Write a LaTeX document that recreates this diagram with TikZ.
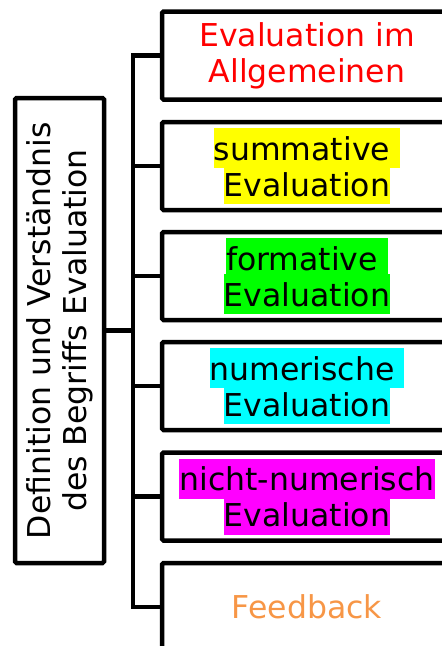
\documentclass[tikz,border=0pt]{standalone}
\usepackage{fontspec}
\setmainfont{DejaVu Sans}
\definecolor{hlyellow}{RGB}{255,255,0}
\definecolor{hlgreen}{RGB}{0,255,0}
\definecolor{hlcyan}{RGB}{0,255,255}
\definecolor{hlmagenta}{RGB}{255,0,255}
\definecolor{fbred}{RGB}{255,0,0}
\definecolor{fborange}{RGB}{247,150,70}
\newcommand{\hlt}[2]{{\setlength{\fboxsep}{0pt}\colorbox{#1}{\rule[-8pt]{0pt}{40pt}#2}}}
\newcommand{\diafont}{\fontsize{31.5}{36}\selectfont\lineskiplimit=-60pt\relax}
\begin{document}
\begin{tikzpicture}[x=1pt,y=-1pt,
  txt/.style={font=\diafont, align=center},
  leaf/.style={txt, draw, line width=4.5pt, rounded corners=1.5pt, minimum width=290pt, minimum height=88pt, inner sep=0pt, anchor=center},
  rootbox/.style={txt, draw, line width=4.5pt, rounded corners=1.5pt, rotate=90, minimum width=465pt, minimum height=89pt, inner sep=0pt},
  conn/.style={line width=4.5pt, line cap=rect}]
\useasboundingbox (0,0) rectangle (442,646);
\clip (0,0) rectangle (442,646);
\node[rootbox] (root) at (59.5,330.5) {Definition und Verständnis\\des Begriffs Evaluation};
\node[leaf] (b1) at (307,55.5) {\textcolor{fbred}{Evaluation im}\\\textcolor{fbred}{Allgemeinen}};
\node[leaf] (b2) at (307,166) {\hlt{hlyellow}{summative }\\\hlt{hlyellow}{Evaluation}};
\node[leaf] (b3) at (307,276) {\hlt{hlgreen}{formative }\\\hlt{hlgreen}{Evaluation}};
\node[leaf] (b4) at (307,386) {\hlt{hlcyan}{numerische }\\\hlt{hlcyan}{Evaluation}};
\node[leaf] (b5) at (307,496.5) {\hlt{hlmagenta}{nicht-numerisch}\\\hlt{hlmagenta}{Evaluation}};
\node[leaf] (b6) at (307,607) {\textcolor{fborange}{Feedback}};
\coordinate (trunk) at (133,0);
\draw[conn] (root.south) -- (root.south -| trunk);
\draw[conn] (b1.west -| trunk) -- (b6.west -| trunk);
\foreach \b in {b1,b2,b3,b4,b5,b6}{
  \draw[conn] (\b.west -| trunk) -- (\b.west);
}
\end{tikzpicture}
\end{document}
